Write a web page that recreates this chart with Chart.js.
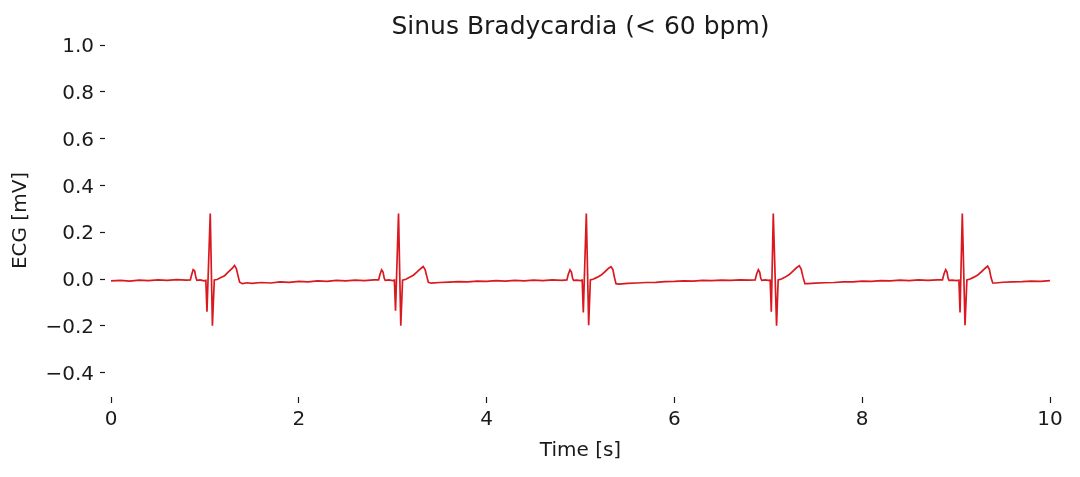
<!DOCTYPE html>
<html>
<head>
<meta charset="utf-8">
<script src="https://cdn.jsdelivr.net/npm/chart.js@4.4.1/dist/chart.umd.min.js"></script>
<style>
  html, body { margin: 0; padding: 0; background: #fff; }
  canvas { display: block; }
</style>
</head>
<body>
<canvas id="ecgChart" width="1080" height="477"></canvas>
<script>
// ECG trace, one line per beat (time in s, value in mV)
var timeSec = [
  0.00, 0.10, 0.20, 0.30, 0.40, 0.50, 0.60, 0.70, 0.80,
  0.845, 0.86, 0.875, 0.89, 0.905, 0.915, 0.95, 0.99, 1.01, 1.022, 1.057, 1.08, 1.10, 1.13, 1.17, 1.21, 1.25, 1.29, 1.315, 1.335, 1.355, 1.37, 1.40, 1.45, 1.50, 1.60, 1.70, 1.80, 1.90, 2.00, 2.10, 2.20, 2.30, 2.40, 2.50, 2.60, 2.70, 2.80,
  2.85, 2.865, 2.882, 2.897, 2.91, 2.92, 2.96, 3.00, 3.018, 3.03, 3.062, 3.086, 3.105, 3.14, 3.18, 3.22, 3.26, 3.30, 3.325, 3.345, 3.365, 3.38, 3.41, 3.50, 3.60, 3.70, 3.80, 3.90, 4.00, 4.10, 4.20, 4.30, 4.40, 4.50, 4.60, 4.70, 4.80,
  4.855, 4.87, 4.888, 4.903, 4.916, 4.926, 4.96, 5.00, 5.018, 5.03, 5.062, 5.087, 5.105, 5.14, 5.18, 5.22, 5.26, 5.30, 5.325, 5.345, 5.362, 5.378, 5.41, 5.50, 5.60, 5.70, 5.80, 5.90, 6.00, 6.10, 6.20, 6.30, 6.40, 6.50, 6.60, 6.70, 6.80,
  6.86, 6.875, 6.894, 6.908, 6.92, 6.93, 6.97, 7.00, 7.02, 7.032, 7.053, 7.088, 7.105, 7.14, 7.18, 7.22, 7.26, 7.30, 7.33, 7.35, 7.37, 7.39, 7.42, 7.50, 7.60, 7.70, 7.80, 7.90, 8.00, 8.10, 8.20, 8.30, 8.40, 8.50, 8.60, 8.70, 8.80,
  8.855, 8.87, 8.889, 8.903, 8.915, 8.925, 8.96, 9.00, 9.03, 9.042, 9.066, 9.095, 9.115, 9.15, 9.19, 9.23, 9.27, 9.31, 9.336, 9.355, 9.372, 9.39, 9.42, 9.50, 9.60, 9.70, 9.80, 9.90, 10.00
];
var ecgMv = [
  -0.008, -0.006, -0.009, -0.005, -0.007, -0.004, -0.006, -0.003, -0.005,
  -0.004, 0.02, 0.04, 0.035, 0.005, -0.006, -0.004, -0.008, -0.006, -0.14, 0.28, -0.2, -0.004, -0.002, 0.006, 0.014, 0.03, 0.045, 0.058, 0.045, 0.01, -0.014, -0.02, -0.016, -0.019, -0.015, -0.017, -0.012, -0.014, -0.01, -0.012, -0.008, -0.01, -0.006, -0.008, -0.005, -0.007, -0.004,
  -0.004, 0.02, 0.039, 0.03, 0.003, -0.006, -0.004, -0.007, -0.005, -0.136, 0.28, -0.2, -0.005, -0.001, 0.007, 0.016, 0.03, 0.045, 0.053, 0.04, 0.008, -0.014, -0.018, -0.015, -0.013, -0.011, -0.012, -0.009, -0.01, -0.007, -0.009, -0.006, -0.008, -0.005, -0.007, -0.004, -0.006,
  -0.004, 0.02, 0.039, 0.03, 0.003, -0.006, -0.005, -0.007, -0.005, -0.143, 0.28, -0.198, -0.004, 0.0, 0.008, 0.017, 0.031, 0.046, 0.053, 0.04, 0.006, -0.02, -0.022, -0.019, -0.017, -0.015, -0.014, -0.011, -0.01, -0.008, -0.009, -0.006, -0.007, -0.005, -0.006, -0.004, -0.005,
  -0.004, 0.02, 0.04, 0.03, 0.003, -0.006, -0.004, -0.006, -0.005, -0.14, 0.28, -0.2, -0.004, 0.0, 0.008, 0.018, 0.033, 0.048, 0.057, 0.042, 0.008, -0.02, -0.02, -0.018, -0.016, -0.015, -0.012, -0.012, -0.009, -0.01, -0.007, -0.008, -0.005, -0.007, -0.004, -0.006, -0.004,
  -0.004, 0.02, 0.04, 0.03, 0.003, -0.006, -0.005, -0.007, -0.005, -0.143, 0.28, -0.198, -0.004, 0.0, 0.008, 0.017, 0.031, 0.046, 0.055, 0.04, 0.006, -0.017, -0.017, -0.014, -0.012, -0.011, -0.009, -0.01, -0.007
];
var xTickValues = [0, 2, 4, 6, 8, 10];
var yTickValues = [-0.4, -0.2, 0.0, 0.2, 0.4, 0.6, 0.8, 1.0];

var textColor = '#1a1a1a';
var fontFamily = '"DejaVu Sans", sans-serif';

var ctx = document.getElementById('ecgChart').getContext('2d');

var chart = new Chart(ctx, {
    type: 'line',
    data: {
        datasets: [{
            label: 'ECG',
            data: timeSec.map(function (t, i) { return { x: t, y: ecgMv[i] }; }),
            borderColor: '#d9191f',
            borderWidth: 1.7,
            pointRadius: 0,
            tension: 0,
            fill: false
        }]
    },
    options: {
        responsive: false,
        animation: false,
        layout: { padding: { left: 0, right: 30, top: 12, bottom: 0 } },
        plugins: {
            legend: { display: false },
            tooltip: { enabled: false },
            title: {
                display: true,
                text: 'Sinus Bradycardia (< 60 bpm)',
                color: textColor,
                fullSize: false,
                font: { family: fontFamily, size: 25, weight: 'normal' },
                padding: { top: 0, bottom: 3 }
            }
        },
        scales: {
            x: {
                type: 'linear',
                min: 0,
                max: 10,
                afterBuildTicks: function (scale) {
                    scale.ticks = xTickValues.map(function (v) { return { value: v }; });
                },
                afterFit: function (scale) { scale.height = 81; },
                border: { display: false },
                grid: {
                    drawOnChartArea: false,
                    tickLength: 7,
                    tickColor: textColor,
                    tickWidth: 1.2,
                    tickBorderDash: [6, 10],
                    tickBorderDashOffset: 15
                },
                ticks: {
                    color: textColor,
                    padding: 5,
                    maxRotation: 0,
                    font: { family: fontFamily, size: 20 },
                    callback: function (v) { return String(v); }
                },
                title: {
                    display: true,
                    text: 'Time [s]',
                    color: textColor,
                    font: { family: fontFamily, size: 20 },
                    padding: { top: 0, bottom: 14 }
                }
            },
            y: {
                min: -0.5,
                max: 1.0,
                afterBuildTicks: function (scale) {
                    scale.ticks = yTickValues.map(function (v) { return { value: v }; });
                },
                afterFit: function (scale) { scale.width = 111; },
                border: { display: false },
                grid: {
                    drawOnChartArea: false,
                    tickLength: 11,
                    tickColor: textColor,
                    tickWidth: 1.2,
                    tickBorderDash: [5, 10]
                },
                ticks: {
                    color: textColor,
                    padding: 6,
                    labelOffset: 2,
                    font: { family: fontFamily, size: 20 },
                    callback: function (v) {
                        var s = Math.abs(v).toFixed(1);
                        return v < -1e-9 ? '\u2212' + s : s;
                    }
                },
                title: {
                    display: true,
                    text: 'ECG [mV]',
                    color: textColor,
                    font: { family: fontFamily, size: 20 },
                    padding: { top: 9, bottom: 0 }
                }
            }
        }
    }
});
</script>
</body>
</html>
